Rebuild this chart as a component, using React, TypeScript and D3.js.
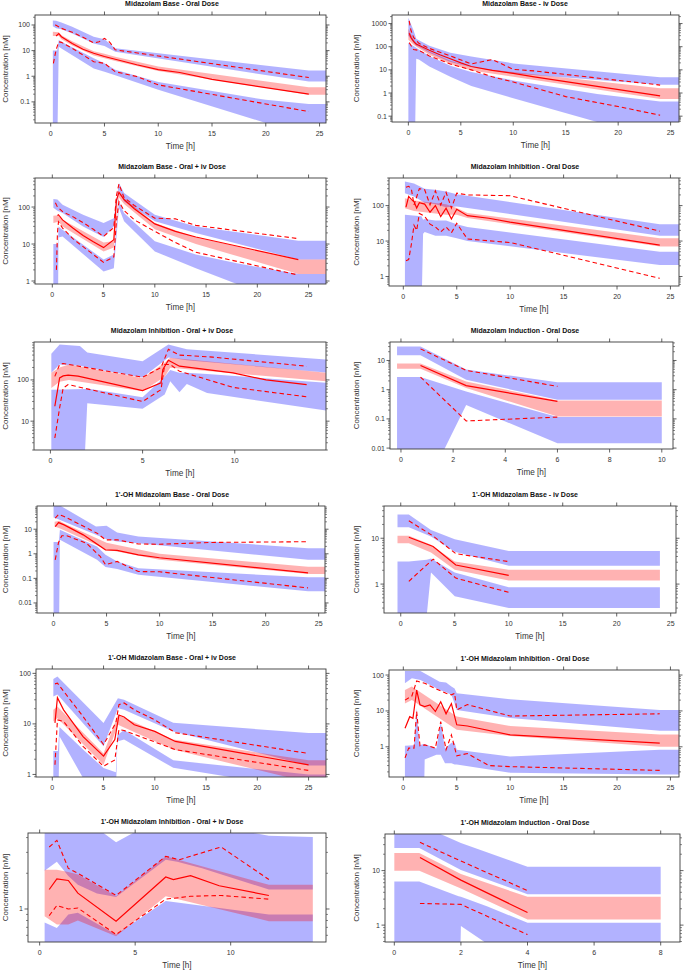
import React from "react";
import * as d3 from "d3";

type Band = [number, number, number][]; // [time, low, high]
type Obs = [number, number][]; // [time, concentration]

// ---- Midazolam Base - Oral Dose ----
const p1Upper: Band = [[0.2, 90, 150], [0.5, 75, 145], [1, 68, 126], [2, 47, 86], [4, 19, 35], [5, 15, 28], [6, 9, 12.5], [24, 0.62, 1.66], [26, 0.62, 1.66]];
const p1Median: Band = [[0.2, 37, 55], [0.75, 37, 52], [1, 28, 40], [2, 16, 23], [4, 6.5, 9.5], [5, 5, 7.5], [6, 3.9, 5.8], [10, 1.6, 2.4], [24, 0.19, 0.37], [26, 0.19, 0.37]];
const p1Lower: Band = [[0.2, 0.001, 10], [0.6, 0.001, 10], [0.75, 14, 26], [1, 12, 22], [4, 2.0, 5], [5, 1.5, 3.2], [6, 1.1, 1.8], [10, 0.3, 0.6], [20, 0.015, 0.12], [24, 0.008, 0.083], [26, 0.008, 0.083]];
const p1ObsMed: Obs = [[0.5, 37], [0.75, 46], [1, 35], [2, 19], [3, 11.3], [4, 7.9], [5, 5.9], [6, 4.6], [8, 2.8], [10, 1.8], [12, 1.4], [15, 0.75], [24, 0.2]];
const p1Obs95: Obs = [[0.4, 100], [0.5, 98], [1, 74], [2, 52], [3, 33], [4, 20], [4.5, 22], [5, 30], [5.5, 21], [6, 10.7], [10, 6.2], [24, 0.89]];
const p1Obs05: Obs = [[0.25, 3.2], [0.5, 10.7], [0.75, 22], [1, 21], [2, 12.3], [4, 3.7], [5, 3.2], [6, 1.5], [8, 0.98], [10, 0.46], [24, 0.042]];

// ---- Midazolam Base - iv Dose ----
const p2Upper: Band = [[0, 300, 1800], [0.5, 150, 500], [0.75, 110, 220], [1, 100, 190], [2, 55, 110], [4, 22, 55], [6, 13, 38], [10, 7, 19], [24, 2.3, 4.8], [26, 2.3, 4.8]];
const p2Median: Band = [[0, 200, 600], [0.5, 120, 200], [1, 85, 115], [2, 45, 62], [4, 18, 25], [6, 9.5, 13], [10, 5, 8], [24, 0.55, 1.6], [26, 0.55, 1.6]];
const p2Lower: Band = [[0, 0.001, 150], [0.6, 0.001, 100], [0.75, 30, 90], [1, 28, 75], [2, 14, 40], [4, 5, 15], [6, 2, 8], [10, 0.6, 3.5], [18, 0.056, 0.9], [24, 0.01, 0.43], [26, 0.01, 0.43]];
const p2ObsMed: Obs = [[0.08, 380], [0.25, 250], [0.5, 170], [0.75, 130], [1, 115], [2, 70], [3, 45], [4, 30], [5, 20], [6, 14], [8, 9.5], [10, 7], [12, 5], [24, 0.75]];
const p2Obs95: Obs = [[0.08, 1300], [0.25, 500], [0.5, 250], [1, 140], [2, 85], [4, 40], [6, 18], [8, 28], [10, 10.5], [12, 9], [24, 2.2]];
const p2Obs05: Obs = [[0.08, 150], [0.5, 75], [1, 70], [2, 40], [4, 18], [6, 10], [8, 5], [10, 3], [15, 0.7], [20, 0.26], [24, 0.11]];

// ---- Midazolam Base - Oral + iv Dose ----
const p3Upper: Band = [[0.1, 95, 165], [0.5, 80, 160], [1, 69, 116], [3, 30, 62], [5, 15.5, 37], [6, 30, 50], [6.5, 294, 445], [7, 142, 240], [10, 41, 62], [14, 20, 30], [24, 3.8, 12.3], [27, 3.8, 12.3]];
const p3Median: Band = [[0.1, 37, 58], [0.6, 40, 60], [1, 30, 45], [5, 6.3, 11], [6, 8, 12], [6.5, 180, 280], [7, 120, 170], [10, 25, 37], [14, 10, 15], [24, 1.55, 3.8], [27, 1.55, 3.8]];
const p3Lower: Band = [[0.1, 0.1, 10], [0.55, 0.1, 10], [0.6, 15, 30], [1, 16, 24.5], [5, 1.8, 3.8], [6, 2.2, 5.2], [6.5, 94, 142], [7, 41, 69], [10, 6.3, 11.8], [14, 2.2, 5.2], [18, 0.83, 3], [24, 0.4, 1.55], [27, 0.4, 1.55]];
const p3ObsMed: Obs = [[0.5, 59], [0.6, 62], [1, 45], [2, 27], [3, 17], [4, 11.5], [5, 8], [6, 13], [6.25, 150], [6.5, 250], [7, 160], [8, 90], [10, 35], [12, 22], [14, 15.5], [24, 3.8]];
const p3Obs95: Obs = [[0.3, 130], [0.5, 100], [1, 75], [2, 55], [3, 38], [4, 25], [5, 16], [6, 28], [6.25, 200], [6.5, 420], [7, 180], [8, 110], [10, 50], [12, 48], [14, 32], [24, 14]];
const p3Obs05: Obs = [[0.4, 2], [0.5, 20], [0.6, 40], [1, 27], [2, 14], [3, 8.5], [4, 5.2], [5, 3.2], [6, 4.5], [6.25, 40], [6.5, 140], [7, 80], [8, 45], [10, 22], [12, 11], [14, 6], [24, 1.45]];

// ---- Midazolam Inhibition - Oral Dose ----
const p4Upper: Band = [[0.15, 224, 475], [1, 180, 420], [2, 120, 300], [3, 110, 280], [4, 90, 250], [5, 95, 210], [24, 14, 30], [26, 14, 30]];
const p4Median: Band = [[0.15, 84, 160], [1, 70, 140], [4, 55, 110], [5, 55, 85], [6, 45, 62], [24, 7, 12], [26, 7, 12]];
const p4Lower: Band = [[0.15, 0.1, 55], [1.7, 0.1, 50], [1.85, 16, 40], [2, 18, 42], [3, 14, 38], [4, 14, 38], [5, 12, 30], [6, 10, 25], [24, 2.1, 5], [26, 2.1, 5]];
const p4ObsMed: Obs = [[0.25, 90], [0.5, 180], [0.75, 150], [1, 130], [1.25, 85], [1.5, 120], [2, 110], [2.5, 65], [3, 100], [3.5, 49], [4, 84], [4.5, 42], [5, 79], [6, 52], [8, 44], [10, 34], [24, 7.7]];
const p4Obs95: Obs = [[0.25, 330], [0.5, 350], [0.75, 300], [1, 104], [1.5, 300], [2, 280], [2.5, 104], [3, 260], [3.5, 104], [4, 238], [4.5, 85], [5, 224], [6, 200], [10, 190], [24, 19]];
const p4Obs05: Obs = [[0.25, 2.8], [0.5, 3], [0.75, 8], [1, 28], [1.25, 20], [1.5, 60], [2, 50], [2.5, 30], [3, 25], [3.5, 18], [4, 25], [4.5, 17], [5, 31.6], [6, 11.4], [10, 9.1], [24, 0.89]];

// ---- Midazolam Inhibition - Oral + iv Dose ----
const p5Upper: Band = [[0.05, 150, 430], [0.5, 236, 720], [1.6, 220, 660], [2, 200, 460], [5, 115, 285], [6.4, 350, 720], [7.4, 300, 550], [15, 150, 313]];
const p5Median: Band = [[0.05, 64, 150], [0.5, 90, 200], [1, 100, 236], [5, 53, 112], [6.2, 120, 260], [6.5, 196, 345], [15, 93, 148]];
const p5Lower: Band = [[0.05, 1, 58], [1.85, 1, 60], [2, 27, 62], [5, 20, 38], [6.2, 44, 120], [6.5, 93, 175], [7, 50, 150], [7.4, 80, 150], [8.5, 48, 140], [15, 18, 85]];
const p5ObsMed: Obs = [[0.24, 23], [0.5, 112], [0.69, 125], [0.96, 130], [1.5, 123], [5, 55], [6, 85], [6.1, 180], [6.4, 300], [7, 215], [9.9, 148], [11.7, 100], [13.9, 77]];
const p5Obs95: Obs = [[0.24, 122], [0.5, 236], [0.69, 250], [5, 116], [6, 200], [6.4, 550], [7, 400], [8.8, 357], [13.9, 215]];
const p5Obs05: Obs = [[0.24, 3.9], [0.5, 21], [0.69, 63], [0.96, 77], [5, 30], [6, 58], [6.2, 236], [6.5, 236], [7, 163], [9.9, 66], [13.9, 39]];

// ---- Midazolam Induction - Oral Dose ----
const p6Upper: Band = [[-0.15, 15, 30], [0.75, 15, 30], [2.5, 2.2, 4.9], [6, 0.45, 1.8], [10, 0.45, 1.8]];
const p6Median: Band = [[-0.15, 5.2, 7.9], [0.75, 5.2, 7.9], [2.5, 1.15, 1.9], [6, 0.12, 0.43], [10, 0.12, 0.43]];
const p6Lower: Band = [[-0.15, 0.0002, 2.7], [0.75, 0.0002, 2.7], [2.5, 0.3, 0.87], [6, 0.0145, 0.115], [10, 0.0145, 0.115]];
const p6ObsMed: Obs = [[0.75, 6.7], [2.5, 1.38], [6, 0.4]];
const p6Obs95: Obs = [[0.75, 25], [2.5, 4.6], [6, 1.3]];
const p6Obs05: Obs = [[0.75, 2.7], [2.5, 0.085], [6, 0.115]];

// ---- 1'-OH Midazolam Base - Oral Dose ----
const p7Upper: Band = [[0, 30, 97], [0.56, 24, 95], [4, 5.9, 12.8], [5, 3.9, 13.7], [6, 3.2, 7.3], [8, 2.7, 5], [24, 0.57, 1.7], [26, 0.57, 1.7]];
const p7Median: Band = [[0.1, 12.8, 20], [0.56, 11, 22], [1, 9, 17], [5, 1.5, 2.8], [10, 0.57, 1.0], [24, 0.15, 0.3], [26, 0.15, 0.3]];
const p7Lower: Band = [[0, 0.0001, 3], [0.5, 0.0001, 3], [0.6, 3.7, 9.4], [4.1, 0.57, 2], [4.9, 0.29, 0.91], [6, 0.24, 0.49], [8, 0.14, 0.26], [24, 0.03, 0.11], [26, 0.03, 0.11]];
const p7ObsMed: Obs = [[0.16, 12.8], [0.47, 18.6], [1, 15], [2.8, 5.9], [4.9, 1.45], [6, 1.38], [8, 0.91], [10, 0.69], [24, 0.166]];
const p7Obs95: Obs = [[0.16, 28], [0.47, 40], [1, 33], [4.1, 6.9], [4.9, 3.7], [6, 3.7], [8, 2.5], [10, 2.45], [15, 2.9], [24, 3.1]];
const p7Obs05: Obs = [[0.16, 0.57], [0.47, 2.9], [0.78, 5.4], [1.25, 5.4], [3.1, 2.7], [4.4, 0.78], [4.9, 0.36], [6, 0.49], [8, 0.19], [10, 0.185], [24, 0.041]];

// ---- 1'-OH Midazolam Base - iv Dose ----
const p8Upper: Band = [[-0.3, 17.3, 33], [0.75, 17.3, 33], [2.8, 10.9, 15.2], [5, 5.1, 9.5], [10, 2.5, 5.3], [24, 2.5, 5.3]];
const p8Median: Band = [[-0.3, 7.8, 11.4], [0.75, 7.8, 11.4], [2.8, 4.9, 7.2], [5, 2.05, 3.1], [10, 1.2, 2.05], [24, 1.2, 2.05]];
const p8Lower: Band = [[-0.3, 0.001, 3.1], [0.75, 0.001, 3.1], [2.4, 0.2, 3.4], [2.8, 1.78, 3.6], [5, 0.54, 1.8], [10, 0.3, 0.85], [24, 0.3, 0.85]];
const p8ObsMed: Obs = [[0.75, 10.5], [3, 6.6], [5.1, 2.6], [10, 1.55]];
const p8Obs95: Obs = [[0.75, 24], [3, 11.2], [5.1, 4.6], [10, 3.1]];
const p8Obs05: Obs = [[0.75, 1.15], [3, 3.5], [5.1, 1.35], [10, 0.66]];

// ---- 1'-OH Midazolam Base - Oral + iv Dose ----
const p9Upper: Band = [[0.1, 35, 77], [0.5, 38, 87], [5, 3.6, 10.4], [6.4, 20.5, 32], [7, 19, 30], [11.8, 7.1, 10.5], [25, 1.5, 6.6], [27, 1.5, 6.6]];
const p9Median: Band = [[0.1, 11.2, 19], [0.5, 13, 22], [5, 1.55, 2.6], [6.4, 9.6, 15], [11.8, 3.1, 4.9], [25, 0.7, 1.9], [27, 0.7, 1.9]];
const p9Lower: Band = [[0.1, 0.1, 2.9], [0.55, 0.1, 2.9], [0.7, 5.7, 8.7], [3, 0.85, 3.1], [5, 0.4, 1.34], [6.2, 0.4, 1.1], [6.35, 4.5, 6], [7, 4.9, 7.6], [11.8, 1.35, 1.9], [25, 0.5, 1.0], [27, 0.5, 1.0]];
const p9ObsMed: Obs = [[0.26, 10.5], [0.5, 33], [1.1, 19], [3, 5.6], [5, 2.3], [6.1, 4.9], [6.5, 15], [7, 13.7], [8, 9.6], [10, 7.1], [12, 4.5], [25, 1.55]];
const p9Obs95: Obs = [[0.26, 62], [0.5, 64], [3, 14], [5, 3.9], [6.2, 10.5], [6.5, 24], [7, 26], [8, 19], [10, 12], [12, 6.7], [25, 2.6]];
const p9Obs05: Obs = [[0.26, 1.55], [0.5, 12], [1.1, 11.2], [3, 3.6], [4.7, 1.66], [5, 1.45], [6.1, 1.94], [6.5, 7.7], [7, 7.4], [12, 3.1], [25, 1.2]];

// ---- 1'-OH Midazolam Inhibition - Oral Dose ----
const p10Upper: Band = [[0.15, 59, 130], [0.8, 81, 130], [1.6, 73, 130], [3.4, 38, 65], [4, 33, 62], [4.5, 28, 48], [4.8, 16, 42], [5, 10.6, 31], [10, 6.3, 21], [24, 2.8, 10.6], [26, 2.8, 10.6]];
const p10Median: Band = [[0.15, 16, 38], [0.8, 20, 48], [5, 3, 7], [10, 2.0, 3.8], [24, 1.0, 2.2], [26, 1.0, 2.2]];
const p10Lower: Band = [[0.15, 0.01, 1.07], [1, 0.01, 1.1], [1.25, 0.01, 11.8], [1.5, 0.01, 1.1], [1.9, 0.01, 1.2], [2, 0.44, 1.2], [3.1, 0.6, 0.9], [3.5, 0.6, 5], [3.9, 0.35, 0.9], [4.5, 0.35, 1.3], [4.8, 0.32, 1.3], [5, 0.32, 0.83], [10, 0.19, 0.54], [24, 0.17, 0.83], [26, 0.17, 0.83]];
const p10ObsMed: Obs = [[0.16, 3.3], [0.6, 6.9], [0.9, 6.2], [1.25, 38], [1.56, 14.7], [2, 13.2], [2.5, 14.7], [3, 9.6], [3.5, 18], [4, 8.3], [4.5, 16], [5, 4.1], [6, 3.8], [10, 2.15], [24, 1.26]];
const p10Obs95: Obs = [[0.16, 20], [0.8, 26], [1.25, 68], [2, 59], [3, 42], [4, 31], [4.5, 28], [4.8, 31], [5, 10.7], [6, 15], [7.2, 12], [10, 7.2], [24, 8.3]];
const p10Obs05: Obs = [[0.16, 0.49], [0.5, 0.92], [1, 0.92], [1.25, 9.6], [1.56, 1.07], [2, 1.13], [3, 0.92], [3.5, 5], [4, 0.83], [4.5, 2.15], [5, 0.56], [6, 0.65], [8, 0.3], [10, 0.28], [24, 0.22]];

// ---- 1'-OH Midazolam Inhibition - Oral + iv Dose ----
const p11Upper: Band = [[0.26, 2.1, 10], [0.9, 2.5, 10], [1.5, 1.9, 8], [2, 1.6, 6.2], [3, 1.35, 4.8], [4, 1.26, 3.65], [6.6, 2.6, 6.2], [7.2, 2.5, 6], [8.5, 2.2, 5.2], [12, 1.46, 4.15], [14.3, 1.46, 4.05]];
const p11Median: Band = [[0.26, 0.87, 2.14], [0.9, 0.74, 2.14], [1.5, 0.74, 2.05], [2, 0.8, 1.95], [4, 0.59, 1.28], [6.6, 1.28, 2.78], [12, 0.79, 1.6], [14.3, 0.79, 1.6]];
const p11Lower: Band = [[0.26, 0.3, 0.77], [0.9, 0.3, 0.69], [1.5, 0.3, 0.9], [2, 0.3, 0.93], [4, 0.3, 0.61], [6.6, 0.3, 1.17], [12, 0.3, 0.9], [14.3, 0.3, 0.9]];
const p11ObsMed: Obs = [[0.5, 1.46], [0.9, 1.79], [1.5, 1.74], [2, 1.36], [4, 0.79], [6.6, 1.86], [7, 1.77], [7.9, 1.91], [9.4, 1.57], [12, 1.3]];
const p11Obs95: Obs = [[0.5, 3.33], [0.9, 3.79], [1.5, 2.2], [2, 2.0], [4, 1.3], [6.6, 2.78], [7.3, 2.6], [9.5, 3.33], [12, 1.77]];
const p11Obs05: Obs = [[0.5, 0.88], [0.9, 1.07], [1.5, 1.0], [2, 1.02], [4, 0.61], [6.6, 1.21], [7.9, 1.28], [9.5, 1.3], [12, 1.21]];

// ---- 1'-OH Midazolam Induction - Oral Dose ----
const p12Upper: Band = [[0, 26, 70], [0.75, 26, 70], [2, 10.3, 32], [4, 3.7, 11.8], [8, 3.7, 11.8]];
const p12Median: Band = [[0, 10, 21], [0.75, 10, 21], [2, 4.7, 8.7], [4, 1.27, 3.3], [8, 1.27, 3.3]];
const p12Lower: Band = [[0, 0.01, 6.3], [0.75, 0.01, 6.3], [1.93, 0.01, 3.4], [2, 0.96, 3.3], [2.8, 0.45, 2.2], [4, 0.15, 1.1], [8, 0.15, 1.1]];
const p12ObsMed: Obs = [[0.77, 17.4], [2, 6.7], [4, 1.7]];
const p12Obs95: Obs = [[0.77, 33], [2, 15], [4, 4.3]];
const p12Obs05: Obs = [[0.77, 2.5], [2, 2.4], [4, 0.67]];

const titles = [
  "Midazolam Base - Oral Dose",
  "Midazolam Base - iv Dose",
  "Midazolam Base - Oral + iv Dose",
  "Midazolam Inhibition - Oral Dose",
  "Midazolam Inhibition - Oral + iv Dose",
  "Midazolam Induction - Oral Dose",
  "1'-OH Midazolam Base - Oral Dose",
  "1'-OH Midazolam Base - iv Dose",
  "1'-OH Midazolam Base - Oral + iv Dose",
  "1'-OH Midazolam Inhibition - Oral Dose",
  "1'-OH Midazolam Inhibition - Oral + iv Dose",
  "1'-OH Midazolam Induction - Oral Dose",
];

const ticks25 = [0, 5, 10, 15, 20, 25];
const ticks10 = [0, 5, 10];
const ticksEven10 = [0, 2, 4, 6, 8, 10];
const ticksEven8 = [0, 2, 4, 6, 8];

interface PanelSpec {
  title: string;
  upper: Band;
  median: Band;
  lower: Band;
  obsMed: Obs;
  obs95: Obs;
  obs05: Obs;
  xDomain: [number, number];
  yDomain: [number, number];
  xTicks: number[];
  yTicks: number[];
}

const panels: PanelSpec[] = [
  { title: titles[0], upper: p1Upper, median: p1Median, lower: p1Lower, obsMed: p1ObsMed, obs95: p1Obs95, obs05: p1Obs05, xDomain: [-1.46, 25.6], yDomain: [0.015, 245], xTicks: ticks25, yTicks: [0.1, 1, 10, 100] },
  { title: titles[1], upper: p2Upper, median: p2Median, lower: p2Lower, obsMed: p2ObsMed, obs95: p2Obs95, obs05: p2Obs05, xDomain: [-1.56, 25.8], yDomain: [0.056, 2340], xTicks: ticks25, yTicks: [0.1, 1, 10, 100, 1000] },
  { title: titles[2], upper: p3Upper, median: p3Median, lower: p3Lower, obsMed: p3ObsMed, obs95: p3Obs95, obs05: p3Obs05, xDomain: [-1.69, 26.7], yDomain: [0.83, 610], xTicks: ticks25, yTicks: [1, 10, 100] },
  { title: titles[3], upper: p4Upper, median: p4Median, lower: p4Lower, obsMed: p4ObsMed, obs95: p4Obs95, obs05: p4Obs05, xDomain: [-1.34, 25.8], yDomain: [0.54, 600], xTicks: ticks25, yTicks: [1, 10, 100] },
  { title: titles[4], upper: p5Upper, median: p5Median, lower: p5Lower, obsMed: p5ObsMed, obs95: p5Obs95, obs05: p5Obs05, xDomain: [-0.89, 14.95], yDomain: [2.0, 830], xTicks: ticks10, yTicks: [10, 100] },
  { title: titles[5], upper: p6Upper, median: p6Median, lower: p6Lower, obsMed: p6ObsMed, obs95: p6Obs95, obs05: p6Obs05, xDomain: [-0.42, 10.43], yDomain: [0.0093, 43], xTicks: ticksEven10, yTicks: [0.01, 0.1, 1, 10] },
  { title: titles[6], upper: p7Upper, median: p7Median, lower: p7Lower, obsMed: p7ObsMed, obs95: p7Obs95, obs05: p7Obs05, xDomain: [-1.56, 25.6], yDomain: [0.0039, 88], xTicks: ticks25, yTicks: [0.01, 0.1, 1, 10] },
  { title: titles[7], upper: p8Upper, median: p8Median, lower: p8Lower, obsMed: p8ObsMed, obs95: p8Obs95, obs05: p8Obs05, xDomain: [-1.55, 25.49], yDomain: [0.234, 50.5], xTicks: ticks25, yTicks: [1, 10] },
  { title: titles[8], upper: p9Upper, median: p9Median, lower: p9Lower, obsMed: p9ObsMed, obs95: p9Obs95, obs05: p9Obs05, xDomain: [-1.59, 26.7], yDomain: [0.89, 122], xTicks: ticks25, yTicks: [1, 10, 100] },
  { title: titles[9], upper: p10Upper, median: p10Median, lower: p10Lower, obsMed: p10ObsMed, obs95: p10Obs95, obs05: p10Obs05, xDomain: [-1.34, 25.8], yDomain: [0.144, 138], xTicks: ticks25, yTicks: [1, 10, 100] },
  { title: titles[10], upper: p11Upper, median: p11Median, lower: p11Lower, obsMed: p11ObsMed, obs95: p11Obs95, obs05: p11Obs05, xDomain: [-0.61, 14.99], yDomain: [0.527, 4.37], xTicks: ticks10, yTicks: [1] },
  { title: titles[11], upper: p12Upper, median: p12Median, lower: p12Lower, obsMed: p12ObsMed, obs95: p12Obs95, obs05: p12Obs05, xDomain: [-0.28, 8.58], yDomain: [0.49, 47], xTicks: ticksEven8, yTicks: [1, 10] },
];

// plot boxes (left, right, top, bottom) in page pixels
const boxes = [
  { l: 35, r: 326, t: 15, b: 123 },
  { l: 392, r: 679, t: 15, b: 122 },
  { l: 35, r: 326, t: 178, b: 284 },
  { l: 389, r: 679, t: 178, b: 286 },
  { l: 34, r: 326, t: 342, b: 450 },
  { l: 390, r: 673, t: 342, b: 449 },
  { l: 37, r: 325, t: 506, b: 613 },
  { l: 384, r: 676, t: 506, b: 613 },
  { l: 36, r: 326, t: 669, b: 777 },
  { l: 389, r: 679, t: 670, b: 777 },
  { l: 28, r: 326, t: 833, b: 942 },
  { l: 385, r: 680, t: 834, b: 942 },
];

const FONT = "'Liberation Sans', Arial, Helvetica, sans-serif";
const AXIS = "#3a3a3a";
const BLUE = "rgba(0,0,255,0.3)";
const PINK = "rgba(255,0,0,0.3)";

function logMinorTicks(domain: [number, number]) {
  const out: number[] = [];
  const k0 = Math.floor(Math.log10(domain[0]));
  const k1 = Math.ceil(Math.log10(domain[1]));
  for (let k = k0; k <= k1; k++) {
    for (let m = 2; m <= 9; m++) {
      const v = m * Math.pow(10, k);
      if (v >= domain[0] && v <= domain[1]) out.push(v);
    }
  }
  return out;
}

function VpcPanel({ spec, box, idx }: { spec: PanelSpec; box: { l: number; r: number; t: number; b: number }; idx: number }) {
  const x = d3.scaleLinear().domain(spec.xDomain).range([box.l, box.r]);
  const y = d3.scaleLog().domain(spec.yDomain).range([box.b, box.t]);

  const area = d3.area<[number, number, number]>()
    .x(d => x(d[0]))
    .y0(d => y(d[1]))
    .y1(d => y(d[2]));
  const line = d3.line<[number, number]>()
    .x(d => x(d[0]))
    .y(d => y(d[1]));

  const left = idx % 2 === 0;
  const titleX = left ? 172 : 525;
  const ylabX = left ? 5 : 356;
  const minors = logMinorTicks(spec.yDomain);
  const clipId = `clip-${idx}`;

  return (
    <g>
      <defs>
        <clipPath id={clipId}>
          <rect x={box.l} y={box.t} width={box.r - box.l} height={box.b - box.t} />
        </clipPath>
      </defs>

      <text x={titleX} y={box.t - 9} textAnchor="middle" fontSize={7} fontWeight="bold" fill="#111">
        {spec.title}
      </text>

      <g clipPath={`url(#${clipId})`}>
        <path d={area(spec.upper) ?? ""} fill={BLUE} />
        <path d={area(spec.lower) ?? ""} fill={BLUE} />
        <path d={area(spec.median) ?? ""} fill={PINK} />
        <path d={line(spec.obs95) ?? ""} fill="none" stroke="#ff0000" strokeWidth={1.1} strokeDasharray="4.5,3" />
        <path d={line(spec.obs05) ?? ""} fill="none" stroke="#ff0000" strokeWidth={1.1} strokeDasharray="4.5,3" />
        <path d={line(spec.obsMed) ?? ""} fill="none" stroke="#ff0000" strokeWidth={1.2} />
      </g>

      <rect x={box.l} y={box.t} width={box.r - box.l} height={box.b - box.t} fill="none" stroke={AXIS} strokeWidth={0.9} />

      {/* x ticks: bottom with labels, top without */}
      {spec.xTicks.map(t => (
        <g key={`xt${t}`}>
          <line x1={x(t)} x2={x(t)} y1={box.b} y2={box.b + 3.5} stroke={AXIS} strokeWidth={0.8} />
          <line x1={x(t)} x2={x(t)} y1={box.t} y2={box.t - 3.5} stroke={AXIS} strokeWidth={0.8} />
          <text x={x(t)} y={box.b + 12.5} textAnchor="middle" fontSize={7} fill="#333">{t}</text>
        </g>
      ))}

      {/* y ticks on both sides, labels on the left */}
      {spec.yTicks.map(v => (
        <g key={`yt${v}`}>
          <line x1={box.l} x2={box.l - 3.5} y1={y(v)} y2={y(v)} stroke={AXIS} strokeWidth={0.8} />
          <line x1={box.r} x2={box.r + 3.5} y1={y(v)} y2={y(v)} stroke={AXIS} strokeWidth={0.8} />
          <text x={box.l - 5} y={y(v) + 2.5} textAnchor="end" fontSize={7} fill="#333">{String(v)}</text>
        </g>
      ))}
      {minors.map(v => (
        <g key={`ym${v}`}>
          <line x1={box.l} x2={box.l - 2} y1={y(v)} y2={y(v)} stroke={AXIS} strokeWidth={0.6} />
          <line x1={box.r} x2={box.r + 2} y1={y(v)} y2={y(v)} stroke={AXIS} strokeWidth={0.6} />
        </g>
      ))}

      <text x={(box.l + box.r) / 2} y={box.b + 26} textAnchor="middle" fontSize={8.2} fill="#333">Time [h]</text>
      <text
        transform={`translate(${ylabX},${(box.t + box.b) / 2}) rotate(-90)`}
        textAnchor="middle"
        dominantBaseline="central"
        fontSize={8}
        fill="#333"
      >
        Concentration [nM]
      </text>
    </g>
  );
}

export default function App() {
  return (
    <svg
      width={685}
      height={971}
      style={{ position: "absolute", left: 0, top: 0, background: "#fff" }}
      fontFamily={FONT}
    >
      <rect width={685} height={971} fill="#fff" />
      {panels.map((p, i) => (
        <VpcPanel key={i} spec={p} box={boxes[i]} idx={i} />
      ))}
    </svg>
  );
}
